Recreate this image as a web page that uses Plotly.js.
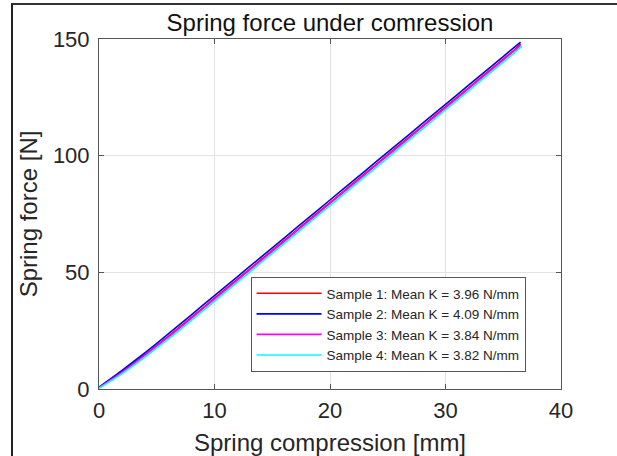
<!DOCTYPE html>
<html>
<head>
<meta charset="utf-8">
<script src="https://cdn.plot.ly/plotly-3.0.1.min.js"></script>
<style>
  html, body { margin: 0; padding: 0; background: #fff; }
  #wrap { position: relative; width: 617px; height: 456px; overflow: hidden; }
  #chart { position: absolute; left: 0; top: 0; width: 617px; height: 456px; }
  #frame { position: absolute; left: 11px; top: 3px; width: 700px; height: 600px;
           border-left: 2px solid #222; border-top: 2px solid #333; pointer-events: none; }
</style>
</head>
<body>
<div id="wrap">
  <div id="chart"></div>
  <div id="frame"></div>
</div>
<script>
// Compression [mm]
const compression = [0, 2, 4, 6, 8, 10, 12, 14, 16, 18, 20, 22, 24, 26, 28, 30, 32, 34, 36, 36.5];
const compression4 = [0, 2, 4, 6, 8, 10, 12, 14, 16, 18, 20, 22, 24, 26, 28, 30, 32, 34, 36, 36.6];

// Spring force [N]
const force1 = [0.6, 7.4, 14.8, 22.6, 30.7, 38.9, 47.1, 55.3, 63.5, 71.7, 79.9, 88.1, 96.3, 104.5, 112.7, 120.9, 129.1, 137.3, 145.5, 147.9];
const force2 = [0.8, 8.0, 15.6, 23.6, 31.8, 40.0, 48.2, 56.4, 64.6, 72.8, 81.0, 89.2, 97.4, 105.6, 113.8, 122.0, 130.2, 138.4, 146.6, 148.7];
const force3 = [0.5, 7.2, 14.5, 22.2, 30.3, 38.5, 46.7, 54.9, 63.1, 71.3, 79.5, 87.7, 95.9, 104.1, 112.3, 120.5, 128.7, 136.9, 145.1, 147.3];
const force4 = [0.3, 6.6, 13.8, 21.4, 29.4, 37.6, 45.8, 54.0, 62.2, 70.4, 78.6, 86.8, 95.0, 103.2, 111.4, 119.6, 127.8, 136.0, 144.2, 146.8];

const seriesNames = [
  'Sample 1: Mean K = 3.96 N/mm',
  'Sample 2: Mean K = 4.09 N/mm',
  'Sample 3: Mean K = 3.84 N/mm',
  'Sample 4: Mean K = 3.82 N/mm'
];
const seriesColors = ['#ff0000', '#0000ff', '#ff00ff', '#00ffff'];

const xTicks = [0, 10, 20, 30, 40];
const yTicks = [0, 50, 100, 150];

const xs = [compression, compression, compression, compression4];
const ys = [force1, force2, force3, force4];

const traces = ys.map((y, i) => ({
  x: xs[i], y: y, type: 'scatter', mode: 'lines', name: seriesNames[i],
  line: { color: seriesColors[i], width: 1.6, shape: 'spline', smoothing: 0.6 }
}));

const font = 'Liberation Sans, Arial, Helvetica, sans-serif';
const axisCommon = {
  showline: true, linecolor: '#555', linewidth: 1, mirror: 'ticks',
  ticks: 'inside', ticklen: 5, tickcolor: '#555', tickwidth: 1,
  showgrid: true, gridcolor: '#e3e3e3', gridwidth: 1,
  zeroline: false, tickfont: { family: font, size: 22, color: '#262626' }
};

const layout = {
  width: 617, height: 456,
  margin: { l: 99, r: 56, t: 39, b: 67 },
  paper_bgcolor: '#fff', plot_bgcolor: '#fff',
  font: { family: font, color: '#262626' },
  title: { text: 'Spring force under comression', font: { family: font, size: 24, color: '#111' },
           x: 0.5, xref: 'paper', xanchor: 'center', y: 1, yref: 'paper', yanchor: 'bottom', pad: { b: 8 } },
  xaxis: Object.assign({}, axisCommon, {
    range: [0, 40], tickvals: xTicks, ticktext: xTicks.map(String), ticklabelstandoff: 2,
    title: { text: 'Spring compression [mm]', font: { family: font, size: 24, color: '#262626' }, standoff: 12 }
  }),
  yaxis: Object.assign({}, axisCommon, {
    range: [0, 150], tickvals: yTicks, ticktext: yTicks.map(String), ticklabelstandoff: 4,
    title: { text: 'Spring force [N]', font: { family: font, size: 24, color: '#262626' }, standoff: 8 }
  }),
  showlegend: true,
  legend: {
    x: 0.328, y: 0.32, xanchor: 'left', yanchor: 'top',
    bgcolor: '#fff', bordercolor: '#555', borderwidth: 1,
    font: { family: font, size: 13.5, color: '#262626' },
    itemwidth: 65, tracegroupgap: 0
  }
};

Plotly.newPlot('chart', traces, layout, { staticPlot: true, displayModeBar: false });
</script>
</body>
</html>
